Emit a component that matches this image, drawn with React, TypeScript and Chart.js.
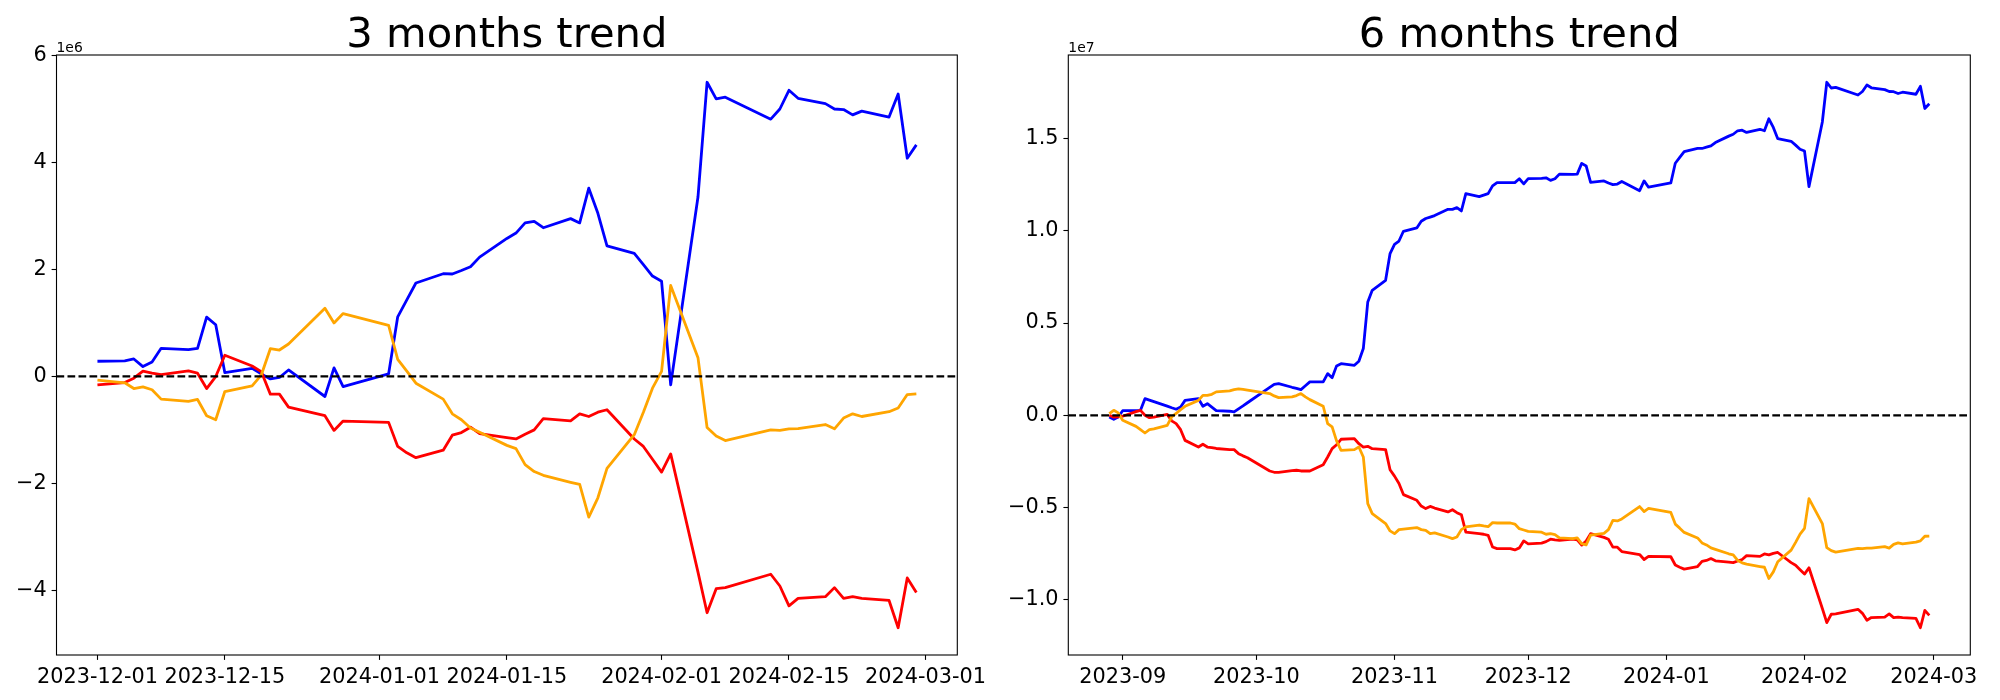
import React, { useEffect, useRef } from 'react';
import { Chart, registerables } from 'chart.js';

Chart.register(...registerables);

// ---------------- 3 months trend (values in units of 1e6) ----------------
const DATES_3M = [
  '2023-12-01', '2023-12-04', '2023-12-05', '2023-12-06', '2023-12-07', '2023-12-08',
  '2023-12-11', '2023-12-12', '2023-12-13', '2023-12-14', '2023-12-15',
  '2023-12-18', '2023-12-19', '2023-12-20', '2023-12-21', '2023-12-22',
  '2023-12-26', '2023-12-27', '2023-12-28',
  '2024-01-02', '2024-01-03', '2024-01-04', '2024-01-05',
  '2024-01-08', '2024-01-09', '2024-01-10', '2024-01-11', '2024-01-12',
  '2024-01-15', '2024-01-16', '2024-01-17', '2024-01-18', '2024-01-19',
  '2024-01-22', '2024-01-23', '2024-01-24', '2024-01-25', '2024-01-26',
  '2024-01-29', '2024-01-30', '2024-01-31',
  '2024-02-01', '2024-02-02', '2024-02-05', '2024-02-06', '2024-02-07', '2024-02-08',
  '2024-02-13', '2024-02-14', '2024-02-15', '2024-02-16',
  '2024-02-19', '2024-02-20', '2024-02-21', '2024-02-22', '2024-02-23',
  '2024-02-26', '2024-02-27', '2024-02-28', '2024-02-29',
];
const BLUE_3M = [
  0.283, 0.29, 0.326, 0.183, 0.27, 0.525, 0.5, 0.525, 1.108, 0.965, 0.07,
  0.152, 0.047, -0.047, -0.02, 0.12, -0.376, 0.158, -0.19,
  0.047, 1.114, 1.43, 1.747, 1.92, 1.915, 1.98, 2.05, 2.23,
  2.58, 2.68, 2.87, 2.9, 2.78, 2.95, 2.87, 3.52, 3.05, 2.44, 2.3, 2.09, 1.877,
  1.778, -0.158, 3.354, 5.5, 5.19, 5.22, 4.81, 5.0, 5.35, 5.2,
  5.1, 5.0, 4.99, 4.89, 4.96, 4.85, 5.28, 4.08, 4.33,
];
const ORANGE_3M = [
  -0.07, -0.12, -0.227, -0.196, -0.25, -0.425, -0.469, -0.432, -0.736, -0.81, -0.283,
  -0.177, 0.022, 0.518, 0.493, 0.605, 1.275, 1.0, 1.175,
  0.953, 0.32, 0.1, -0.127, -0.425, -0.7, -0.81, -0.965, -1.046,
  -1.29, -1.35, -1.65, -1.78, -1.85, -1.98, -2.02, -2.63, -2.27, -1.72, -1.09, -0.67, -0.22,
  0.095, 1.7, 0.35, -0.955, -1.115, -1.2, -1.0, -1.01, -0.98, -0.976,
  -0.9, -0.98, -0.78, -0.7, -0.75, -0.66, -0.59, -0.34, -0.326,
];
const RED_3M = [
  -0.158, -0.115, -0.034, 0.097, 0.06, 0.034, 0.102, 0.06, -0.227, -0.003, 0.395,
  0.195, 0.09, -0.332, -0.332, -0.574, -0.735, -1.01, -0.835,
  -0.86, -1.31, -1.43, -1.52, -1.38, -1.1, -1.05, -0.95, -1.07,
  -1.145, -1.17, -1.08, -1.0, -0.79, -0.83, -0.7, -0.75, -0.67, -0.624, -1.17, -1.31, -1.55,
  -1.79, -1.45, -3.66, -4.42, -3.97, -3.95, -3.7, -3.92, -4.29, -4.15,
  -4.12, -3.95, -4.15, -4.12, -4.15, -4.19, -4.7, -3.77, -4.04,
];
const XTICKS_3M = ['2023-12-01', '2023-12-15', '2024-01-01', '2024-01-15', '2024-02-01', '2024-02-15', '2024-03-01'];
const XLABELS_3M = ['2023-12-01', '2023-12-15', '2024-01-01', '2024-01-15', '2024-02-01', '2024-02-15', '2024-03-01'];
const YTICKS_3M = [-4, -2, 0, 2, 4, 6];

// ---------------- 6 months trend (values in units of 1e7) ----------------
const DATES_6M = [
  '2023-08-29', '2023-08-30', '2023-08-31',
  '2023-09-01', '2023-09-04', '2023-09-05', '2023-09-06', '2023-09-07', '2023-09-08',
  '2023-09-11', '2023-09-12', '2023-09-13', '2023-09-14', '2023-09-15',
  '2023-09-18', '2023-09-19', '2023-09-20', '2023-09-21', '2023-09-22',
  '2023-09-25', '2023-09-26', '2023-09-27', '2023-09-28', '2023-09-29',
  '2023-10-04', '2023-10-05', '2023-10-06', '2023-10-09', '2023-10-10', '2023-10-11', '2023-10-12', '2023-10-13',
  '2023-10-16', '2023-10-17', '2023-10-18', '2023-10-19', '2023-10-20',
  '2023-10-23', '2023-10-24', '2023-10-25', '2023-10-26', '2023-10-27', '2023-10-30', '2023-10-31',
  '2023-11-01', '2023-11-02', '2023-11-03', '2023-11-06', '2023-11-07', '2023-11-08', '2023-11-09', '2023-11-10',
  '2023-11-13', '2023-11-14', '2023-11-15', '2023-11-16', '2023-11-17',
  '2023-11-20', '2023-11-21', '2023-11-22', '2023-11-23', '2023-11-24',
  '2023-11-27', '2023-11-28', '2023-11-29', '2023-11-30',
  '2023-12-01', '2023-12-04', '2023-12-05', '2023-12-06', '2023-12-07', '2023-12-08',
  '2023-12-11', '2023-12-12', '2023-12-13', '2023-12-14', '2023-12-15',
  '2023-12-18', '2023-12-19', '2023-12-20', '2023-12-21', '2023-12-22',
  '2023-12-26', '2023-12-27', '2023-12-28',
  '2024-01-02', '2024-01-03', '2024-01-04', '2024-01-05',
  '2024-01-08', '2024-01-09', '2024-01-10', '2024-01-11', '2024-01-12',
  '2024-01-15', '2024-01-16', '2024-01-17', '2024-01-18', '2024-01-19',
  '2024-01-22', '2024-01-23', '2024-01-24', '2024-01-25', '2024-01-26',
  '2024-01-29', '2024-01-30', '2024-01-31',
  '2024-02-01', '2024-02-02', '2024-02-05', '2024-02-06', '2024-02-07', '2024-02-08',
  '2024-02-13', '2024-02-14', '2024-02-15', '2024-02-16',
  '2024-02-19', '2024-02-20', '2024-02-21', '2024-02-22', '2024-02-23',
  '2024-02-26', '2024-02-27', '2024-02-28', '2024-02-29',
];
const BLUE_6M = [
  -0.009, -0.022, -0.009,
  0.025, 0.025, 0.027, 0.09, 0.082, 0.074, 0.05, 0.041, 0.033, 0.045, 0.081,
  0.09, 0.049, 0.063, 0.044, 0.025, 0.022, 0.018, 0.035, 0.051, 0.068,
  0.151, 0.168, 0.172, 0.152, 0.146, 0.139, 0.16, 0.181,
  0.181, 0.226, 0.204, 0.268, 0.28, 0.271, 0.293, 0.362, 0.615, 0.678, 0.732, 0.877,
  0.927, 0.945, 0.998, 1.016, 1.052, 1.067, 1.075, 1.083,
  1.117, 1.117, 1.126, 1.108, 1.202, 1.186, 1.194, 1.202, 1.244, 1.262,
  1.262, 1.262, 1.283, 1.255,
  1.284, 1.285, 1.288, 1.274, 1.283, 1.308, 1.306, 1.308, 1.366, 1.352, 1.263,
  1.271, 1.26, 1.251, 1.254, 1.268, 1.218, 1.271, 1.237,
  1.26, 1.367, 1.399, 1.43, 1.448, 1.447, 1.454, 1.461, 1.479,
  1.514, 1.524, 1.543, 1.546, 1.534, 1.551, 1.543, 1.608, 1.561, 1.5, 1.486, 1.465, 1.443,
  1.433, 1.24, 1.591, 1.806, 1.775, 1.778, 1.737, 1.756, 1.791, 1.776,
  1.766, 1.756, 1.755, 1.745, 1.752, 1.741, 1.784, 1.664, 1.689,
];
const ORANGE_6M = [
  0.009, 0.027, 0.013,
  -0.027, -0.06, -0.078, -0.096, -0.078, -0.074, -0.055, -0.009, 0.01, 0.031, 0.049,
  0.081, 0.108, 0.108, 0.114, 0.127, 0.132, 0.139, 0.143, 0.14, 0.136,
  0.118, 0.105, 0.096, 0.1, 0.107, 0.118, 0.1, 0.085,
  0.049, -0.045, -0.063, -0.139, -0.19, -0.186, -0.172, -0.226, -0.479, -0.533, -0.587, -0.627,
  -0.642, -0.62, -0.617, -0.609, -0.62, -0.624, -0.642, -0.638,
  -0.66, -0.669, -0.66, -0.62, -0.605, -0.595, -0.6, -0.604, -0.582, -0.584,
  -0.584, -0.59, -0.615, -0.622,
  -0.629, -0.634, -0.645, -0.642, -0.647, -0.665, -0.669, -0.665, -0.696, -0.703, -0.65,
  -0.64, -0.62, -0.57, -0.573, -0.562, -0.495, -0.522, -0.505,
  -0.527, -0.59, -0.612, -0.635, -0.665, -0.692, -0.703, -0.719, -0.727,
  -0.751, -0.757, -0.787, -0.8, -0.807, -0.82, -0.824, -0.885, -0.849, -0.794, -0.731, -0.689, -0.644,
  -0.613, -0.452, -0.587, -0.718, -0.734, -0.742, -0.722, -0.723, -0.72, -0.72,
  -0.712, -0.72, -0.7, -0.692, -0.697, -0.688, -0.681, -0.656, -0.655,
];
const RED_6M = [
  0.0, -0.01, -0.009,
  -0.005, 0.02, 0.027, 0.0, -0.013, -0.01, 0.005, -0.03, -0.045, -0.078, -0.136,
  -0.172, -0.157, -0.172, -0.175, -0.18, -0.186, -0.186, -0.208, -0.22, -0.23,
  -0.302, -0.309, -0.309, -0.3, -0.298, -0.302, -0.302, -0.302,
  -0.268, -0.226, -0.181, -0.16, -0.13, -0.127, -0.154, -0.172, -0.168, -0.181, -0.186, -0.295,
  -0.33, -0.37, -0.43, -0.461, -0.492, -0.506, -0.494, -0.503,
  -0.524, -0.512, -0.528, -0.539, -0.634, -0.642, -0.645, -0.651, -0.714, -0.723,
  -0.723, -0.73, -0.719, -0.681,
  -0.697, -0.693, -0.685, -0.672, -0.676, -0.678, -0.671, -0.676, -0.704, -0.682, -0.642,
  -0.662, -0.672, -0.715, -0.715, -0.739, -0.755, -0.782, -0.765,
  -0.767, -0.812, -0.824, -0.834, -0.82, -0.792, -0.787, -0.777, -0.789,
  -0.796, -0.799, -0.79, -0.782, -0.761, -0.765, -0.752, -0.757, -0.749, -0.744, -0.799, -0.813, -0.837,
  -0.861, -0.827, -1.048, -1.124, -1.079, -1.077, -1.052, -1.074, -1.111, -1.097,
  -1.094, -1.077, -1.097, -1.094, -1.097, -1.101, -1.152, -1.058, -1.085,
];
const XTICKS_6M = ['2023-09-01', '2023-10-01', '2023-11-01', '2023-12-01', '2024-01-01', '2024-02-01', '2024-03-01'];
const XLABELS_6M = ['2023-09', '2023-10', '2023-11', '2023-12', '2024-01', '2024-02', '2024-03'];
const YTICKS_6M = [-1.0, -0.5, 0.0, 0.5, 1.0, 1.5];

const BLUE = '#0000ff';
const ORANGE = '#ffa500';
const RED = '#ff0000';
const FONT = 'DejaVu Sans';

const dayNum = (s: string) => {
  const [y, m, d] = s.split('-').map(Number);
  return Date.UTC(y, m - 1, d) / 86400000;
};

function Panel(props: any) {
  const { offsetLeft, dates, blue, orange, red, title, offsetText, xTicks, xLabels, yTicks, yDecimals, area } = props;
  const ref = useRef<HTMLCanvasElement>(null);

  useEffect(() => {
    const canvas = ref.current;
    if (!canvas) return;
    const xs = dates.map(dayNum);
    const xmin0 = Math.min(...xs);
    const xmax0 = Math.max(...xs);
    const xm = (xmax0 - xmin0) * 0.05;
    const all = [...blue, ...orange, ...red];
    const ymin0 = Math.min(...all);
    const ymax0 = Math.max(...all);
    const ym = (ymax0 - ymin0) * 0.05;
    const tickVals = xTicks.map(dayNum);

    const mk = (vals: number[], color: string) => ({
      data: xs.map((x: number, i: number) => ({ x, y: vals[i] })),
      borderColor: color,
      backgroundColor: color,
      borderWidth: 2.8,
      pointRadius: 0,
      fill: false,
      tension: 0,
      borderJoinStyle: 'round',
      borderCapStyle: 'butt',
    });

    const fmtY = (v: number) => {
      const s = yDecimals > 0 ? Number(v).toFixed(yDecimals) : String(Math.round(v));
      return s.replace('-', '\u2212');
    };

    const frame = {
      id: 'frame',
      afterDatasetsDraw(chart: any) {
        const { ctx, chartArea: a, scales } = chart;
        const y0 = scales.y.getPixelForValue(0);
        ctx.save();
        ctx.beginPath();
        ctx.setLineDash([7.7, 3.3]);
        ctx.lineWidth = 2.2;
        ctx.strokeStyle = '#000';
        ctx.moveTo(a.left, y0);
        ctx.lineTo(a.right, y0);
        ctx.stroke();
        ctx.setLineDash([]);
        ctx.lineWidth = 1.1;
        ctx.strokeRect(a.left, a.top, a.right - a.left, a.bottom - a.top);
        ctx.fillStyle = '#000';
        ctx.font = `41.7px "${FONT}"`;
        ctx.textAlign = 'center';
        ctx.textBaseline = 'alphabetic';
        ctx.fillText(title, (a.left + a.right) / 2, a.top - 8.3);
        ctx.font = `13.9px "${FONT}"`;
        ctx.textAlign = 'left';
        ctx.fillText(offsetText, a.left, a.top - 3.4);
        ctx.restore();
      },
    };

    const tickFont = { family: FONT, size: 20.8 };
    const grid = {
      display: true,
      drawOnChartArea: false,
      drawTicks: true,
      tickLength: 4.9,
      tickColor: '#000',
      tickWidth: 1.1,
    };

    const chart = new Chart(canvas, {
      type: 'line',
      data: {
        datasets: [mk(orange, ORANGE), mk(red, RED), mk(blue, BLUE)] as any,
      },
      options: {
        animation: false,
        responsive: false,
        devicePixelRatio: 1,
        events: [],
        layout: { padding: { left: 0, top: area.top, right: 1000 - area.right, bottom: 0 } },
        plugins: {
          legend: { display: false },
          title: { display: false },
          tooltip: { enabled: false },
        },
        scales: {
          x: {
            type: 'linear',
            min: xmin0 - xm,
            max: xmax0 + xm,
            afterBuildTicks: (s: any) => {
              s.ticks = tickVals.map((v: number) => ({ value: v }));
            },
            afterFit: (s: any) => {
              s.height = 700 - area.bottom;
            },
            ticks: {
              autoSkip: false,
              maxRotation: 0,
              minRotation: 0,
              padding: 4.9,
              color: '#000',
              font: tickFont,
              callback: (v: any) => {
                const i = tickVals.indexOf(Number(v));
                return i >= 0 ? xLabels[i] : '';
              },
            },
            grid,
            border: { display: false },
          },
          y: {
            type: 'linear',
            min: ymin0 - ym,
            max: ymax0 + ym,
            afterBuildTicks: (s: any) => {
              s.ticks = yTicks.map((v: number) => ({ value: v }));
            },
            afterFit: (s: any) => {
              s.width = area.left;
            },
            ticks: {
              padding: 4.9,
              color: '#000',
              font: tickFont,
              callback: (v: any) => fmtY(Number(v)),
            },
            grid,
            border: { display: false },
          },
        },
      } as any,
      plugins: [frame],
    });
    return () => chart.destroy();
  }, []);

  return (
    <canvas
      ref={ref}
      width={1000}
      height={700}
      style={{ position: 'absolute', left: offsetLeft, top: 0, width: 1000, height: 700, display: 'block' }}
    />
  );
}

export default function App() {
  return (
    <div style={{ position: 'fixed', left: 0, top: 0, width: 2000, height: 700, background: '#fff', overflow: 'hidden' }}>
      <Panel
        offsetLeft={0}
        dates={DATES_3M}
        blue={BLUE_3M}
        orange={ORANGE_3M}
        red={RED_3M}
        title="3 months trend"
        offsetText="1e6"
        xTicks={XTICKS_3M}
        xLabels={XLABELS_3M}
        yTicks={YTICKS_3M}
        yDecimals={0}
        area={{ left: 56.5, right: 957.3, top: 55, bottom: 655 }}
      />
      <Panel
        offsetLeft={1000}
        dates={DATES_6M}
        blue={BLUE_6M}
        orange={ORANGE_6M}
        red={RED_6M}
        title="6 months trend"
        offsetText="1e7"
        xTicks={XTICKS_6M}
        xLabels={XLABELS_6M}
        yTicks={YTICKS_6M}
        yDecimals={1}
        area={{ left: 68.3, right: 970.3, top: 55, bottom: 655 }}
      />
    </div>
  );
}
